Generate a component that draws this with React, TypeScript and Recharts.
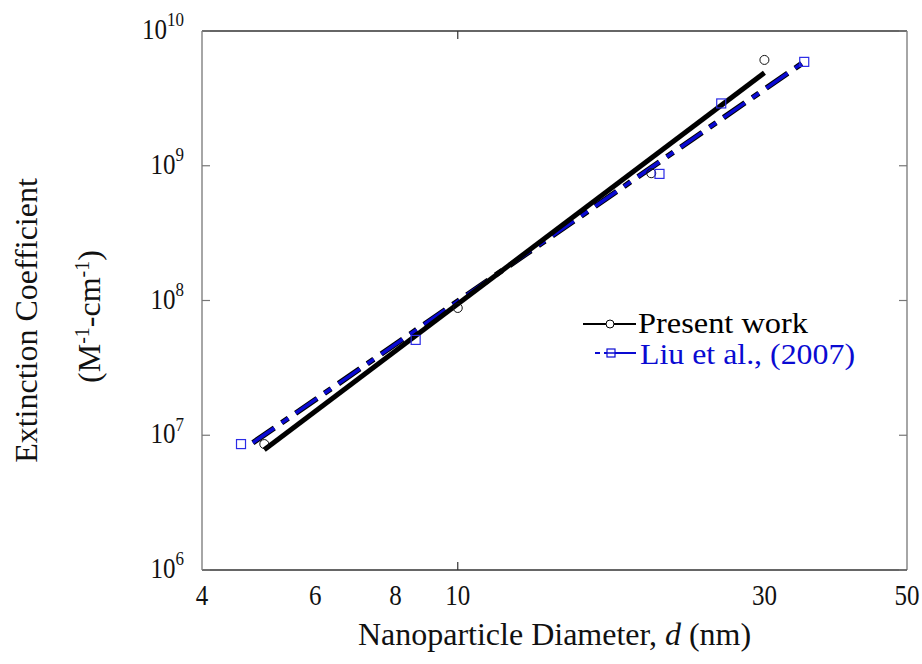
import {
  ComposedChart,
  Line,
  Scatter,
  XAxis,
  YAxis,
  ReferenceLine,
  Legend,
} from 'recharts';

const FONT = '"Liberation Serif", "Times New Roman", serif';

const CHART_W = 922;
const CHART_H = 664;
const MARGIN = { top: 31, right: 15, bottom: 0, left: 0 };
const Y_AXIS_W = 202;
const X_AXIS_H = 94;
const PLOT_W = CHART_W - MARGIN.left - Y_AXIS_W - MARGIN.right;
const PLOT_H = CHART_H - MARGIN.top - X_AXIS_H - MARGIN.bottom;

const BLUE = '#0a0ad2';

// axis ticks
const X_TICKS = [4, 6, 8, 10, 30, 50];
const X_MARKED = [10];
const Y_TICKS = [1e6, 1e7, 1e8, 1e9, 1e10];

// present work: fitted line + computed points
const PW_FIT_D = [5, 30];
const PW_FIT_E = [7.8e6, 4.9e9];
const PW_D = [5, 10, 20, 30];
const PW_E = [8.6e6, 8.8e7, 8.8e8, 6.1e9];

// Liu et al. (2007): fitted line + measured points
const LIU_FIT_D = [4.8, 34.6];
const LIU_FIT_E = [8.8e6, 5.9e9];
const LIU_D = [4.6, 8.6, 20.6, 25.7, 34.6];
const LIU_E = [8.6e6, 5.1e7, 8.7e8, 2.9e9, 5.9e9];

const rows = (d: number[], e: number[]) => d.map((v, i) => ({ d: v, e: e[i] }));

const pwFit = rows(PW_FIT_D, PW_FIT_E);
const pwPts = rows(PW_D, PW_E);
const liuFit = rows(LIU_FIT_D, LIU_FIT_E);
const liuPts = rows(LIU_D, LIU_E);

// the original figure's lettering is a little taller than it is wide
const STRETCH = 'scale(1, 1.15)';

function XTick({ x, y, payload }: any) {
  const v = payload.value;
  return (
    <g>
      {X_MARKED.includes(v) ? (
        <>
          <line x1={x} x2={x} y1={y} y2={y - 8} stroke="#333" strokeWidth={1.2} />
          <line x1={x} x2={x} y1={y - PLOT_H} y2={y - PLOT_H + 8} stroke="#333" strokeWidth={1.2} />
        </>
      ) : null}
      <g transform={`translate(${x}, ${y + 35}) ${STRETCH}`}>
        <text x={0} y={0} textAnchor="middle" fontSize={25} fontFamily={FONT} fill="#111">
          {v}
        </text>
      </g>
    </g>
  );
}

function YTick({ x, y, payload }: any) {
  const exp = Math.round(Math.log10(payload.value));
  return (
    <g>
      <line x1={x} x2={x + 8} y1={y} y2={y} stroke="#777" strokeWidth={1.2} />
      <line x1={x + PLOT_W - 8} x2={x + PLOT_W} y1={y} y2={y} stroke="#777" strokeWidth={1.2} />
      <g transform={`translate(${x - 18}, ${y + 8}) ${STRETCH}`}>
        <text x={0} y={0} textAnchor="end" fontSize={25} fontFamily={FONT} fill="#111">
          10
          <tspan dy={-11} fontSize={17}>
            {exp}
          </tspan>
        </text>
      </g>
    </g>
  );
}

function XTitle({ viewBox }: any) {
  const { x, y, width } = viewBox;
  return (
    <text x={x + width / 2} y={y + 75} textAnchor="middle" fontSize={32} fontFamily={FONT} fill="#111">
      Nanoparticle Diameter,{' '}
      <tspan fontStyle="italic">d</tspan> (nm)
    </text>
  );
}

function YTitle({ viewBox }: any) {
  const cy = viewBox.y + viewBox.height / 2;
  const c1 = cy + 20;
  const c2 = cy + 16;
  return (
    <g fontFamily={FONT} fill="#111">
      <text x={37} y={c1} transform={`rotate(-90, 37, ${c1})`} textAnchor="middle" fontSize={32}>
        Extinction Coefficient
      </text>
      <text x={100} y={c2} transform={`rotate(-90, 100, ${c2})`} textAnchor="middle" fontSize={32}>
        (M
        <tspan dy={-11} fontSize={20}>-1</tspan>
        <tspan dy={11}>-cm</tspan>
        <tspan dy={-11} fontSize={20}>-1</tspan>
        <tspan dy={11}>)</tspan>
      </text>
    </g>
  );
}

function LegendBox() {
  return (
    <svg width={300} height={70} style={{ overflow: 'visible' }}>
      <g fontFamily={FONT} fontSize={29}>
        <line x1={3} x2={56} y1={19} y2={19} stroke="#000" strokeWidth={2} />
        <circle cx={30} cy={19} r={4} fill="#fff" stroke="#000" strokeWidth={1} />
        <text x={58} y={28} fill="#000" textLength={170} lengthAdjust="spacingAndGlyphs">
          Present work
        </text>
        <line x1={15} x2={56} y1={48} y2={48} stroke={BLUE} strokeWidth={2} strokeDasharray="5 4 40" />
        <rect x={27} y={44} width={8} height={8} fill="#fff" stroke={BLUE} strokeWidth={1.2} />
        <line x1={27} x2={35} y1={48} y2={48} stroke={BLUE} strokeWidth={1.5} />
        <text x={60} y={59} fill={BLUE} textLength={215} lengthAdjust="spacingAndGlyphs">
          Liu et al., (2007)
        </text>
      </g>
    </svg>
  );
}

const circle = (p: any) => (
  <circle cx={p.cx} cy={p.cy} r={4.5} fill="none" stroke="#111" strokeWidth={1} />
);
const square = (p: any) => (
  <rect x={p.cx - 4.5} y={p.cy - 4.5} width={9} height={9} fill="none" stroke="#2b2be6" strokeWidth={1.2} />
);

export default function App() {
  return (
    <div style={{ position: 'absolute', left: 0, top: 0, background: '#fff' }}>
      <ComposedChart width={CHART_W} height={CHART_H} margin={MARGIN}>
        <XAxis
          type="number"
          dataKey="d"
          scale="log"
          domain={[4, 50]}
          allowDataOverflow
          ticks={X_TICKS}
          interval={0}
          height={X_AXIS_H}
          tickSize={0}
          tickMargin={0}
          tickLine={false}
          tick={<XTick />}
          axisLine={{ stroke: '#333', strokeWidth: 1.5 }}
          label={<XTitle />}
        />
        <YAxis
          type="number"
          dataKey="e"
          scale="log"
          domain={[1e6, 1e10]}
          allowDataOverflow
          ticks={Y_TICKS}
          interval={0}
          width={Y_AXIS_W}
          tickSize={0}
          tickMargin={0}
          tickLine={false}
          tick={<YTick />}
          axisLine={{ stroke: '#888', strokeWidth: 1.5 }}
          label={<YTitle />}
        />
        <ReferenceLine y={1e10} stroke="#333" strokeWidth={1.5} />
        <ReferenceLine x={50} stroke="#888" strokeWidth={1.5} />
        <Line
          data={liuFit}
          dataKey="e"
          stroke="#000"
          strokeWidth={5.5}
          strokeDasharray="26 9 8 9"
          dot={false}
          isAnimationActive={false}
          legendType="none"
        />
        <Line
          data={liuFit}
          dataKey="e"
          stroke={BLUE}
          strokeWidth={3.5}
          strokeDasharray="26 9 8 9"
          dot={false}
          isAnimationActive={false}
          legendType="none"
        />
        <Line
          data={pwFit}
          dataKey="e"
          stroke="#000"
          strokeWidth={5}
          dot={false}
          isAnimationActive={false}
          legendType="none"
        />
        <Scatter data={pwPts} dataKey="e" shape={circle} isAnimationActive={false} legendType="none" />
        <Scatter data={liuPts} dataKey="e" shape={square} isAnimationActive={false} legendType="none" />
        <Legend
          layout="vertical"
          align="center"
          verticalAlign="middle"
          wrapperStyle={{ left: 580, top: 305, width: 300, height: 70 }}
          content={<LegendBox />}
        />
      </ComposedChart>
    </div>
  );
}
